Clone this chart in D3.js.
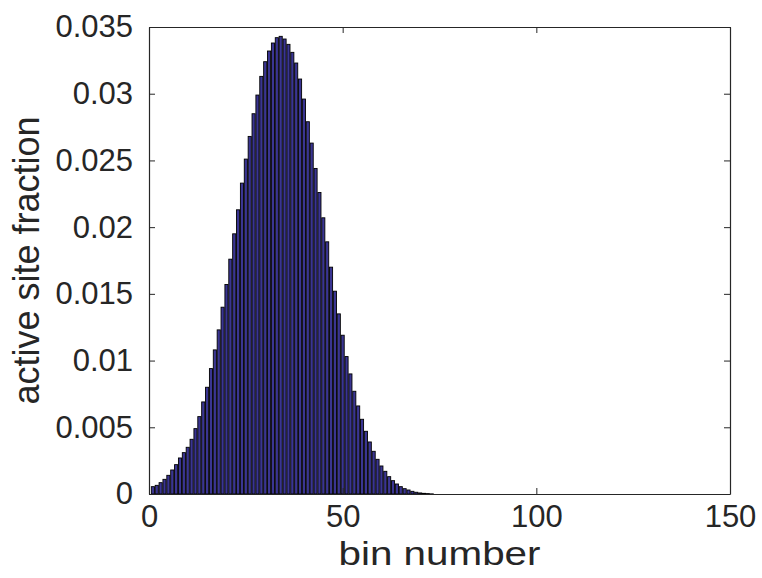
<!DOCTYPE html>
<html>
<head>
<meta charset="utf-8">
<script src="https://cdn.jsdelivr.net/npm/d3@7"></script>
<style>
  body { margin: 0; background: #fff; }
  svg text { font-family: "Liberation Sans", Arial, Helvetica, sans-serif; fill: #262626; }
</style>
</head>
<body>
<svg id="chart" width="762" height="578"></svg>
<script>
// bin index (1..73) and active site fraction
var bins = d3.range(1, 74);
var fractions = [
  0.00055, 0.00065, 0.00085, 0.0011, 0.0014, 0.0018, 0.0022, 0.0027, 0.0031, 0.0035,
  0.0041, 0.0049, 0.0058, 0.0069, 0.0080, 0.0094, 0.0108, 0.0123, 0.0140, 0.0157,
  0.0176, 0.0195, 0.0213, 0.0233, 0.0251, 0.0268, 0.0285, 0.0299, 0.0313, 0.0324,
  0.0332, 0.0338, 0.0342, 0.0343, 0.0341, 0.0337, 0.0331, 0.0323, 0.0311, 0.0296,
  0.0279, 0.0263, 0.0244, 0.0226, 0.0207, 0.0189, 0.0170, 0.0152, 0.0135, 0.0119,
  0.0103, 0.0090, 0.0077, 0.0066, 0.0056, 0.0047, 0.0039, 0.0032, 0.0026, 0.0021,
  0.0017, 0.0013, 0.0010, 0.00075, 0.00055, 0.0004, 0.0003, 0.0002, 0.00013, 0.00008,
  0.00005, 0.00003, 0.00001
];
var xTicks = [0, 50, 100, 150];
var yTicks = [0, 0.005, 0.01, 0.015, 0.02, 0.025, 0.03, 0.035];
var xTitle = 'bin number';
var yTitle = 'active site fraction';

var margin = { top: 27, right: 32, bottom: 84, left: 149 };
var svg = d3.select('#chart');
var width = +svg.attr('width') - margin.left - margin.right;
var height = +svg.attr('height') - margin.top - margin.bottom;

var x = d3.scaleLinear().domain([0, 150]).range([0, width]);
var y = d3.scaleLinear().domain([0, 0.035]).range([height, 0]);

var g = svg.append('g').attr('transform', 'translate(' + margin.left + ',' + margin.top + ')');

// bars, MATLAB style: width 0.8 of a bin, black edges
var barW = x(0.8) - x(0);
g.append('g').attr('class', 'bars')
  .selectAll('rect')
  .data(bins.map(function (b, i) { return [b, fractions[i]]; }))
  .enter().append('rect')
  .attr('x', function (d) { return x(d[0]) - barW / 2; })
  .attr('y', function (d) { return y(d[1]); })
  .attr('width', barW)
  .attr('height', function (d) { return height - y(d[1]); })
  .style('fill', '#3a3592')
  .style('stroke', '#000')
  .style('stroke-width', 0.9);

// axes: ticks pointing inward, mirrored on top and right
var tickLen = 6;
var fmt = function (d) { return d === 0 ? '0' : String(+d.toFixed(3)); };

var xAxis = g.append('g').attr('transform', 'translate(0,' + height + ')')
  .call(d3.axisBottom(x).tickValues(xTicks).tickSizeInner(-tickLen).tickSizeOuter(0).tickPadding(11).tickFormat(fmt));
var yAxis = g.append('g')
  .call(d3.axisLeft(y).tickValues(yTicks).tickSizeInner(-tickLen).tickSizeOuter(0).tickPadding(16).tickFormat(fmt));
var xTop = g.append('g')
  .call(d3.axisTop(x).tickValues(xTicks).tickSizeInner(-tickLen).tickSizeOuter(0).tickFormat(''));
var yRight = g.append('g').attr('transform', 'translate(' + width + ',0)')
  .call(d3.axisRight(y).tickValues(yTicks).tickSizeInner(-tickLen).tickSizeOuter(0).tickFormat(''));

[xAxis, yAxis, xTop, yRight].forEach(function (a) {
  a.select('.domain').attr('stroke', '#262626').attr('stroke-width', 1.2);
  a.selectAll('.tick line').attr('stroke', '#262626').attr('stroke-width', 1);
  a.selectAll('.tick text').attr('font-size', 31).attr('fill', '#262626')
    .attr('font-family', '"Liberation Sans", Arial, Helvetica, sans-serif');
});
xAxis.selectAll('.tick text').attr('dy', '0.71em');

// axis titles
g.append('text')
  .attr('x', width / 2)
  .attr('y', height + 71)
  .attr('text-anchor', 'middle')
  .attr('font-size', 33)
  .attr('textLength', 202)
  .attr('lengthAdjust', 'spacingAndGlyphs')
  .text(xTitle);

g.append('text')
  .attr('transform', 'translate(' + (-110) + ',' + (height / 2) + ') rotate(-90)')
  .attr('text-anchor', 'middle')
  .attr('font-size', 36)
  .text(yTitle);
</script>
</body>
</html>
